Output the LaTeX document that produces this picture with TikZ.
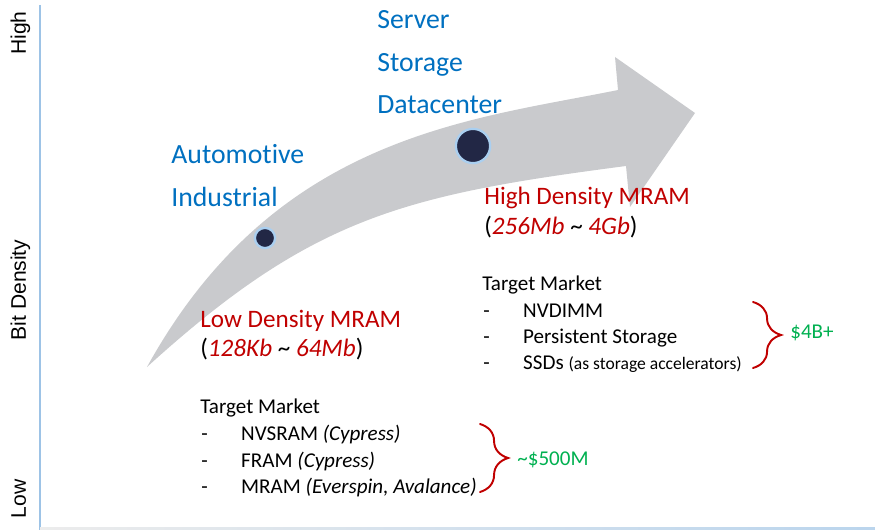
\documentclass[tikz,border=0pt]{standalone}
\usepackage{fontspec}
\setmainfont{Carlito}[Ligatures=CommonOff]
\newfontfamily\axisfont{Liberation Sans}
\usetikzlibrary{decorations.pathreplacing}
\definecolor{mkblue}{RGB}{0,112,192}
\definecolor{mkred}{RGB}{192,0,0}
\definecolor{mkgreen}{RGB}{0,176,80}
\definecolor{mkgray}{RGB}{201,202,205}
\definecolor{dotnavy}{RGB}{34,39,69}
\definecolor{dotring}{RGB}{170,207,240}
\definecolor{axisblue}{RGB}{157,195,230}
% dash + indent for the market lists
\newcommand{\mkitem}[1]{\makebox[22.7pt][l]{-}#1}

\begin{document}
\begin{tikzpicture}[x=0.02cm, y=-0.02cm,
  axislbl/.style={font=\axisfont\fontsize{12}{14}\selectfont, rotate=90, anchor=base, inner sep=0pt},
  segment/.style={font=\fontsize{15.8}{19}\selectfont, text=mkblue, anchor=base west, inner sep=0pt},
  density/.style={font=\fontsize{14.3}{17}\selectfont, text=mkred, anchor=base west, inner sep=0pt},
  market/.style={font=\fontsize{12}{14}\selectfont, anchor=base west, inner sep=0pt},
  money/.style={font=\fontsize{12}{14}\selectfont, text=mkgreen, anchor=base west, inner sep=0pt},
  dot/.style={circle, fill=dotnavy, draw=dotring, line width=1.3pt, inner sep=0pt},
  bracket/.style={decorate, decoration={brace, amplitude=16pt}, draw=mkred, line width=1.1pt, line cap=round}]
  \useasboundingbox (0,0) rectangle (875,530);
  % axes
  \draw[axisblue, line width=1.1pt] (40,5) -- (40,530);
  \shade[left color=gray!15, right color=axisblue!70] (40,527.6) rectangle (875,529.6);
  \node[axislbl] (high) at (26,33) {High};
  \node[axislbl] (bitdensity) at (26,290) {Bit Density};
  \node[axislbl] (low) at (26,499) {Low};
  % growth arrow
  \fill[mkgray] (147,367) .. controls (275,135) and (470,120) .. (618,90)
    -- (615,57) -- (695,113) -- (630,207) -- (626,166)
    .. controls (404,195) and (312,217) .. (147,367) -- cycle;
  % markers on the arrow
  \node[dot, minimum size=11.5pt] (lowdot) at (265,238) {};
  \node[dot, minimum size=19.5pt] (highdot) at (473,146) {};
  % segments
  \node[segment] (server) at (377,29) {Server};
  \node[segment] (storage) at (377,72) {Storage};
  \node[segment] (datacenter) at (377,114) {Datacenter};
  \node[segment] (automotive) at (171,164) {Automotive};
  \node[segment] (industrial) at (171,207) {Industrial};
  % high density
  \node[density] (hiTitle) at (484,205) {High Density MRAM};
  \node[density, text=black] (hiRange) at (484,235) {(\textcolor{mkred}{\itshape 256Mb} \textasciitilde{} \textcolor{mkred}{\itshape 4Gb})};
  \node[market] (hiMarket) at (482,290) {Target Market};
  \node[market] (hiNvdimm) at (483,317) {\mkitem{NVDIMM}};
  \node[market] (hiPersist) at (483,343) {\mkitem{Persistent Storage}};
  \node[market] (hiSsd) at (483,369) {\mkitem{SSDs {\fontsize{10}{12}\selectfont(as storage accelerators)}}};
  \draw[bracket] (753,302) -- (753,368);
  \node[money] (hiValue) at (790,338) {\$4B+};
  % low density
  \node[density] (loTitle) at (200,327) {Low Density MRAM};
  \node[density, text=black] (loRange) at (200,356) {(\textcolor{mkred}{\itshape 128Kb} \textasciitilde{} \textcolor{mkred}{\itshape 64Mb})};
  \node[market] (loMarket) at (200,413) {Target Market};
  \node[market] (loNvsram) at (201,440) {\mkitem{NVSRAM \textit{(Cypress)}}};
  \node[market] (loFram) at (201,467) {\mkitem{FRAM \textit{(Cypress)}}};
  \node[market] (loMram) at (201,493) {\mkitem{MRAM \textit{(Everspin, Avalance)}}};
  \draw[bracket] (480,424) -- (480,492);
  \node[money] (loValue) at (517,465) {\textasciitilde\$500M};
\end{tikzpicture}
\end{document}
